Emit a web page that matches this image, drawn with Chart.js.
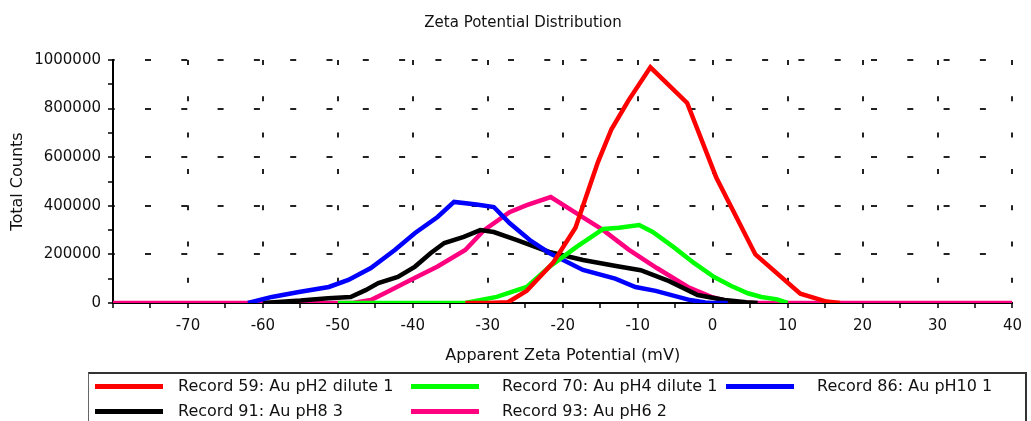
<!DOCTYPE html>
<html>
<head>
<meta charset="utf-8">
<script src="https://cdn.jsdelivr.net/npm/chart.js@4.4.1/dist/chart.umd.min.js"></script>
<style>
  html, body { margin: 0; padding: 0; background: #fff; }
  #wrap { position: relative; width: 1031px; height: 421px; overflow: hidden; font-family: 'DejaVu Sans', sans-serif; color: #111; }
  #chart { position: absolute; left: 0; top: 0; }
  #title { position: absolute; left: 373px; top: 13px; width: 300px; text-align: center; font-size: 15px; line-height: 18px; white-space: nowrap; }
  #legend { position: absolute; left: 88px; top: 372px; width: 936px; height: 70px; border: 1px solid #666; border-top: 2px solid #333; border-right: 2px solid #333; }
  .swatch { position: absolute; height: 5px; width: 68px; }
  .label { position: absolute; font-size: 16px; line-height: 20px; white-space: nowrap; }
</style>
</head>
<body>
<div id="wrap">
  <canvas id="chart" width="1031" height="421"></canvas>
  <div id="title">Zeta Potential Distribution</div>
  <div id="legend"></div>
</div>
<script>
// потенциал (мВ), счёт
const rec59 = [[-33, 0], [-30, 0], [-27.3, 3000], [-24.8, 50000], [-21.3, 165000], [-18.3, 310000], [-15.3, 580000], [-13.5, 715000], [-11.2, 835000], [-8.3, 970000], [-3.4, 823000], [0.5, 515000], [5.7, 200000], [11.7, 38000], [15.2, 6000], [17, 0]]
const rec70 = [[-50, 0], [-33, 0], [-28.8, 25000], [-24.8, 66000], [-21.8, 148000], [-18.2, 230000], [-14.6, 305000], [-12.5, 310000], [-9.8, 321000], [-8, 292000], [-5.2, 230000], [-2.5, 165000], [0.2, 107000], [2.5, 70000], [4.7, 40000], [6.5, 25000], [8.6, 15000], [10, 0]]
const rec86 = [[-62, 0], [-58.8, 25000], [-55.2, 45000], [-51.2, 66000], [-48.6, 95000], [-45.6, 144000], [-42.4, 218000], [-39.7, 288000], [-36.7, 354000], [-34.5, 416000], [-31.5, 405000], [-29.2, 395000], [-27.1, 329000], [-24.4, 259000], [-21.8, 206000], [-17.3, 136000], [-13, 100000], [-10.3, 66000], [-7.6, 50000], [-3, 12000], [-1, 2000], [0, 0], [2, 0]]
const rec91 = [[-60, 0], [-55, 10000], [-51.3, 20000], [-48.3, 25000], [-46.3, 53000], [-44.6, 82000], [-42, 107000], [-39.7, 150000], [-37.6, 206000], [-35.8, 247000], [-33.2, 272000], [-31, 300000], [-29.2, 292000], [-26.1, 259000], [-21.8, 210000], [-17.3, 177000], [-12.9, 152000], [-9.6, 135000], [-5.8, 90000], [-2, 33000], [1.6, 12000], [4.5, 3000], [6, 0]]
const rec93 = [[-80, 0], [-48, 0], [-45.6, 12000], [-43.7, 41000], [-40.3, 95000], [-36.7, 150000], [-33, 218000], [-30.5, 300000], [-27.1, 374000], [-24.8, 403000], [-21.6, 436000], [-18.2, 370000], [-14.6, 300000], [-11.2, 220000], [-7.5, 145000], [-3.3, 66000], [-0.2, 25000], [1.5, 12000], [3.5, 0], [40, 0]]

const seriesData = [rec59, rec70, rec86, rec91, rec93]
const seriesLabels = ['Record 59: Au pH2 dilute 1', 'Record 70: Au pH4 dilute 1', 'Record 86: Au pH10 1', 'Record 91: Au pH8 3', 'Record 93: Au pH6 2']
const seriesColors = ['#ff0000', '#00ff00', '#0000ff', '#000000', '#ff0080']

const xMin = -80
const xMax = 40
const yMax = 1000000

Chart.defaults.font.family = "'DejaVu Sans', sans-serif"
Chart.defaults.color = '#111'

const gridColorX = (c) => (c.tick && c.tick.value % 10 === 0 && c.tick.value > xMin ? '#222' : 'rgba(0,0,0,0)')
const gridColorY = (c) => (c.tick && c.tick.value % 200000 === 0 && c.tick.value > 0 ? '#222' : 'rgba(0,0,0,0)')

new Chart(document.getElementById('chart'), {
  type: 'line',
  data: {
    datasets: seriesData.map((pts, i) => ({
      label: seriesLabels[i],
      data: pts.map(([x, y]) => ({ x, y })),
      borderColor: seriesColors[i],
      backgroundColor: seriesColors[i],
      borderWidth: 4.5,
      pointRadius: 0,
      tension: 0,
      fill: false,
    })),
  },
  options: {
    responsive: false,
    animation: false,
    events: [],
    layout: { padding: { top: 60, right: 11, bottom: 48, left: 0 } },
    plugins: {
      legend: { display: false },
      title: { display: false },
      tooltip: { enabled: false },
    },
    scales: {
      x: {
        type: 'linear',
        min: xMin,
        max: xMax,
        afterFit: (s) => { s.height = 70 },
        ticks: {
          stepSize: 5,
          autoSkip: false,
          maxRotation: 0,
          padding: 9,
          font: { size: 15 },
          callback: (v) => (v % 10 === 0 && v > xMin ? String(v) : ''),
        },
        grid: {
          color: gridColorX,
          lineWidth: 2,
          tickColor: '#000',
          tickWidth: 1.5,
          tickLength: 5,
        },
        border: { display: true, color: '#000', width: 2, dash: [5, 31.3], dashOffset: 0 },
        title: {
          display: true,
          text: 'Apparent Zeta Potential (mV)',
          font: { size: 16 },
          padding: { top: 0, bottom: 8 },
        },
      },
      y: {
        min: 0,
        max: yMax,
        afterFit: (s) => { s.width = 113 },
        ticks: {
          stepSize: 100000,
          autoSkip: false,
          padding: 7,
          font: { size: 15 },
          callback: (v) => (v % 200000 === 0 ? String(v) : ''),
        },
        grid: {
          color: gridColorY,
          lineWidth: 2,
          tickColor: '#000',
          tickWidth: 1.5,
          tickLength: 5,
        },
        border: { display: true, color: '#000', width: 2, dash: [6, 30.3], dashOffset: 5.3 },
        title: {
          display: true,
          text: 'Total Counts',
          font: { size: 16 },
          padding: { top: 8, bottom: 0 },
        },
      },
    },
  },
})

// легенда
const legend = document.getElementById('legend')
const swatchX = [6, 322, 637]
const labelX = [89, 413, 728]
const rowY = [12, 37]
seriesLabels.forEach((text, i) => {
  const col = i % 3
  const row = Math.floor(i / 3)
  const sw = document.createElement('div')
  sw.className = 'swatch'
  sw.style.background = seriesColors[i]
  sw.style.left = swatchX[col] + 'px'
  sw.style.top = (rowY[row] - 2.5) + 'px'
  legend.appendChild(sw)
  const lb = document.createElement('div')
  lb.className = 'label'
  lb.textContent = text
  lb.style.left = labelX[col] + 'px'
  lb.style.top = (rowY[row] - 10) + 'px'
  legend.appendChild(lb)
})
</script>
</body>
</html>
